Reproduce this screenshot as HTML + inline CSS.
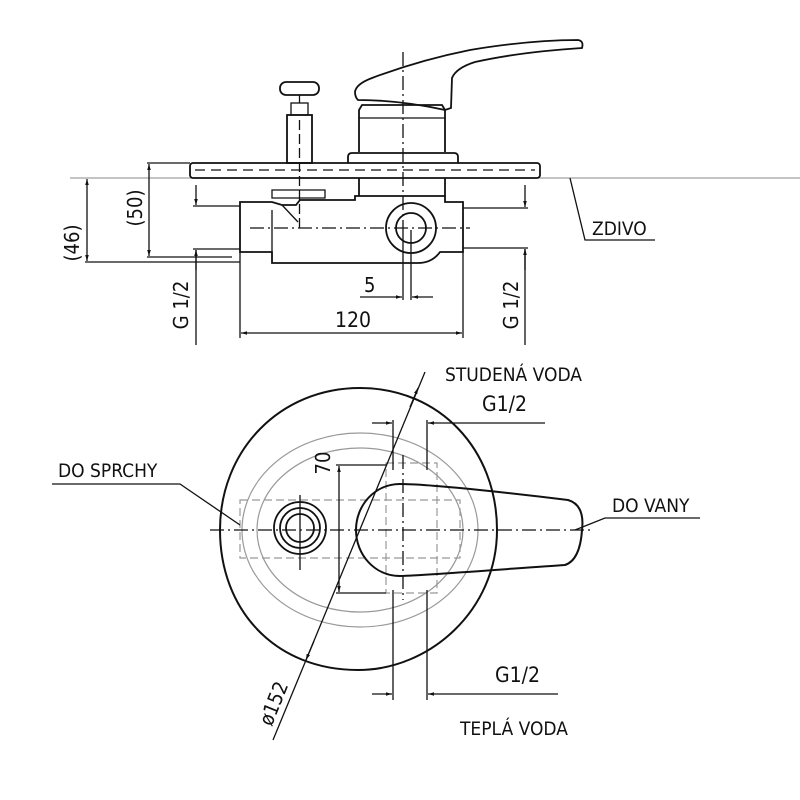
<!DOCTYPE html>
<html><head><meta charset="utf-8"><style>html,body{margin:0;padding:0;background:#fff}svg{display:block}text{font-family:"DejaVu Sans Condensed","Liberation Sans Narrow","Liberation Sans",sans-serif;fill:#111}</style></head><body>
<svg width="800" height="800" viewBox="0 0 800 800" xmlns="http://www.w3.org/2000/svg">
<defs><marker id="a" viewBox="0 0 10 10" refX="10" refY="5" markerWidth="6" markerHeight="6" markerUnits="userSpaceOnUse" orient="auto-start-reverse"><path d="M0,2 L10,5 L0,8z" fill="#111"/></marker></defs>
<g fill="none" stroke="#111" stroke-width="1.3">
<line x1="70" y1="178" x2="800" y2="178" stroke="#888" stroke-width="1"/>
<line x1="147" y1="163" x2="190" y2="163"/>
<line x1="147" y1="257" x2="232" y2="257"/>
<line x1="85" y1="262" x2="240" y2="262"/>
<line x1="193" y1="206" x2="240" y2="206"/>
<line x1="193" y1="249" x2="240" y2="249"/>
<line x1="463" y1="208" x2="528" y2="208"/>
<line x1="463" y1="248" x2="528" y2="248"/>
<line x1="149" y1="164" x2="149" y2="256" marker-start="url(#a)" marker-end="url(#a)"/>
<line x1="87" y1="179" x2="87" y2="261" marker-start="url(#a)" marker-end="url(#a)"/>
<line x1="196" y1="185" x2="196" y2="205" marker-end="url(#a)"/>
<line x1="196" y1="270" x2="196" y2="250" marker-end="url(#a)"/>
<line x1="196" y1="250" x2="196" y2="345"/>
<line x1="525" y1="185" x2="525" y2="207" marker-end="url(#a)"/>
<line x1="525" y1="270" x2="525" y2="249" marker-end="url(#a)"/>
<line x1="525" y1="249" x2="525" y2="345"/>
<line x1="240" y1="252" x2="240" y2="338"/>
<line x1="463" y1="252" x2="463" y2="338"/>
<line x1="241" y1="333" x2="462" y2="333" marker-start="url(#a)" marker-end="url(#a)"/>
<line x1="403" y1="230" x2="403" y2="300"/>
<line x1="411" y1="230" x2="411" y2="300"/>
<line x1="360" y1="297" x2="402" y2="297" marker-end="url(#a)"/>
<line x1="433" y1="297" x2="412" y2="297" marker-end="url(#a)"/>
<rect x="190" y="163" width="350" height="15" rx="3" stroke-width="1.8"/>
<line x1="195" y1="170" x2="535" y2="170" stroke-dasharray="10,6"/>
<path d="M240,202 H272 L282,205 H296 L300,200 H355 V196 H445 V202 H463 V252 H440 Q432,263 418,263 H272 V252 H240 Z" stroke-width="1.8"/>
<path d="M272,210 V252 M282,198 H325 V190 H272 V198 Z M282,205 L298,222"/>
<circle cx="411" cy="228" r="25" stroke-width="1.8"/><circle cx="411" cy="228" r="15" stroke-width="1.8"/>
<line x1="250" y1="228" x2="470" y2="228" stroke-dasharray="14,4,2,4"/>
<rect x="287" y="115" width="25" height="48" stroke-width="1.8"/>
<rect x="291" y="103" width="17" height="12"/>
<rect x="280" y="82" width="39" height="13" rx="6" stroke-width="1.8"/>
<line x1="299.5" y1="95" x2="299.5" y2="103"/>
<line x1="299.5" y1="120" x2="299.5" y2="230" stroke-dasharray="10,4"/>
<path d="M359,152 V110 L362,105 H442 L445,110 V152" stroke-width="1.8"/>
<line x1="359" y1="118" x2="445" y2="118"/>
<path d="M348,163 V157 Q348,153 352,153 H454 Q458,153 458,157 V163" stroke-width="1.8"/>
<path d="M359,178 V196 M445,178 V196" stroke-width="1.8"/>
<path d="M355,92 Q356,84 372,78 Q420,60 470,50 Q530,40 578,40 Q584,41 582,48 Q520,52 475,62 Q456,68 452,78 L451,108 L445,110 Q400,100 358,100 Q355,97 355,92 Z" stroke-width="1.8"/>
<line x1="403" y1="52" x2="403" y2="230" stroke-dasharray="14,4,2,4"/>
<path d="M570,178 L585,240 H655"/>
</g>
<text x="592" y="235" font-size="19">ZDIVO</text>
<text x="364" y="292" font-size="20">5</text>
<text x="335" y="327" font-size="21">120</text>
<text transform="translate(142,208) rotate(-90)" font-size="20" text-anchor="middle">(50)</text>
<text transform="translate(79,243) rotate(-90)" font-size="20" text-anchor="middle">(46)</text>
<text transform="translate(188,305) rotate(-90)" font-size="20" text-anchor="middle">G 1/2</text>
<text transform="translate(518,305) rotate(-90)" font-size="20" text-anchor="middle">G 1/2</text>

<g fill="none" stroke="#999" stroke-width="1.2">
<ellipse cx="360" cy="530" rx="118" ry="97"/>
<ellipse cx="360" cy="530" rx="103" ry="82"/>
<path d="M240,500 H460 V558 H240 Z M386,463 H437 V593 H386 Z" stroke-dasharray="8,4"/>
</g>
<g fill="none" stroke="#111" stroke-width="1.3">
<path d="M360,388 C440,388 497,450 497,530 C497,610 430,670 358,670 C275,670 220,610 220,530 C220,450 280,388 360,388 Z" stroke-width="2"/>
<circle cx="300" cy="528" r="26" stroke-width="1.8"/><circle cx="300" cy="528" r="20" stroke-width="1.8"/><circle cx="300" cy="528" r="14" stroke-width="1.8"/>
<line x1="300" y1="495" x2="300" y2="570"/>
<line x1="210" y1="530" x2="590" y2="530" stroke-dasharray="14,4,2,4"/>
<line x1="403" y1="455" x2="403" y2="600" stroke-dasharray="14,4,2,4"/>
<path d="M400,484 C430,484 520,494 568,500 Q585,505 582,530 Q580,560 565,565 C520,568 430,575 400,576 C375,576 356,555 356,530 C356,505 375,484 400,484 Z" stroke-width="2"/>
<line x1="339" y1="466" x2="339" y2="592" marker-start="url(#a)" marker-end="url(#a)"/>
<line x1="336" y1="465" x2="386" y2="465"/><line x1="336" y1="593" x2="386" y2="593"/>
<line x1="393" y1="420" x2="393" y2="470"/><line x1="427" y1="420" x2="427" y2="470"/>
<line x1="393" y1="590" x2="393" y2="700"/><line x1="427" y1="590" x2="427" y2="700"/>
<line x1="372" y1="423" x2="392" y2="423" marker-end="url(#a)"/><line x1="545" y1="423" x2="428" y2="423" marker-end="url(#a)"/>
<line x1="372" y1="694" x2="392" y2="694" marker-end="url(#a)"/><line x1="558" y1="694" x2="428" y2="694" marker-end="url(#a)"/>
<line x1="273" y1="740" x2="425" y2="372"/>
<line x1="314" y1="641" x2="306" y2="660" marker-end="url(#a)"/>
<line x1="410" y1="407" x2="418" y2="388" marker-end="url(#a)"/>
<path d="M52,484 H180 L240,525"/>
<path d="M700,518 H605 L575,530"/>
</g>
<text x="445" y="381" font-size="19">STUDENÁ VODA</text>
<text x="482" y="411" font-size="21">G1/2</text>
<text x="495" y="682" font-size="21">G1/2</text>
<text x="460" y="735" font-size="19">TEPLÁ VODA</text>
<text x="58" y="477" font-size="19">DO SPRCHY</text>
<text x="612" y="512" font-size="19">DO VANY</text>
<text transform="translate(330,463) rotate(-90)" font-size="20" text-anchor="middle">70</text>
<text transform="translate(280,706) rotate(-68)" font-size="20" text-anchor="middle">ø152</text>
</svg>
</body></html>
